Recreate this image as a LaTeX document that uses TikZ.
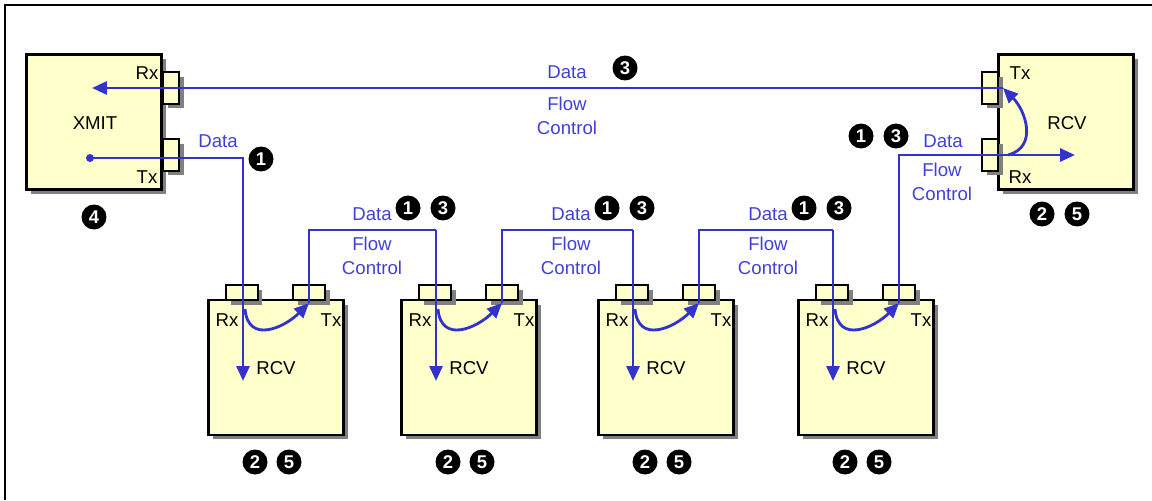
\documentclass[tikz,border=0pt]{standalone}
\usepackage{fontspec}
\setmainfont{Liberation Sans}
\usetikzlibrary{positioning,shadows,arrows.meta}

\definecolor{boxyellow}{RGB}{255,255,204}
\definecolor{flowblue}{RGB}{51,51,204}
\definecolor{labelblue}{RGB}{64,64,216}
\definecolor{shadowgray}{RGB}{128,128,128}

\tikzset{
  unit/.style={draw=black, line width=1.4pt, fill=boxyellow, inner sep=0pt,
    minimum width=2.7cm, minimum height=2.7cm,
    drop shadow={shadow xshift=0.09cm, shadow yshift=-0.09cm, fill=shadowgray, opacity=1}},
  sideport/.style={unit, minimum width=0.32cm, minimum height=0.64cm},
  topport/.style={unit, minimum width=0.64cm, minimum height=0.3cm},
  tag/.style={font=\fontsize{10.6}{12}\selectfont, inner sep=0pt},
  bluetag/.style={tag, text=labelblue, align=center, font=\fontsize{10.6}{13.6}\selectfont},
  num/.style={circle, fill=black, text=white, inner sep=0pt, minimum size=0.5cm,
    font=\bfseries\fontsize{10.5}{11}\selectfont},
  flow/.style={draw=flowblue, line width=1.6pt, -{Triangle[length=8.5pt, width=7.4pt]}},
  bus/.style={draw=flowblue, line width=1.6pt}
}

\begin{document}
\begin{tikzpicture}[x=0.02cm, y=-0.02cm]
\useasboundingbox (0,0) rectangle (1152,500);
\draw[line width=1.3pt] (1152,5) -| (5,500);

% transmitter
\node[unit] (xmit) at (94,122) {};
\node[sideport] (xrx) at (171,88) {};
\node[sideport] (xtx) at (171,155) {};
\node[tag] (xname) at (95,123) {XMIT};
\node[tag] (xrxl) at (147,73) {Rx};
\node[tag] (xtxl) at (147,177) {Tx};
\node[num] (n4) at (94,217) {4};
\fill[flowblue] (90,158) circle (4) coordinate (dot);
\coordinate (xin) at (92,88);

% last receiver
\node[unit] (rcvr) at (1066,122) {};
\node[sideport] (rtx) at (990,88) {};
\node[sideport] (rrx) at (990,155) {};
\node[tag] (rname) at (1067,123) {RCV};
\node[tag] (rtxl) at (1020,73) {Tx};
\node[tag] (rrxl) at (1020,177) {Rx};
\node[num] (rn2) at (1042,214) {2};
\node[num] (rn5) at (1077,214) {5};
\coordinate (rout) at (1003,88);
\coordinate (rloop) at (1008,155);
\coordinate (rin) at (1075,155);

% receivers in the chain
\foreach \i/\x in {1/208, 2/401, 3/598, 4/798} {
  \node[unit] (rcv\i) at ({\x+68},367.5) {};
  \node[topport] (prx\i) at ({\x+34},292.5) {};
  \node[topport] (ptx\i) at ({\x+101},292.5) {};
  \node[tag] (rxl\i) at ({\x+19},320) {Rx};
  \node[tag] (txl\i) at ({\x+123},320) {Tx};
  \node[tag] (name\i) at ({\x+68},368) {RCV};
  \node[num] (a\i) at ({\x+47},462) {2};
  \node[num] (b\i) at ({\x+81},462) {5};
  \coordinate (stop\i) at ({\x+35},381);
  \coordinate (top\i) at ({\x+35},230);
  \coordinate (loop\i) at ({\x+37},309);
  \coordinate (out\i) at ({\x+101},303);
  \draw[flow] (loop\i) to[out=-85, in=-135, looseness=1.4] (out\i);
}

% data and flow control labels
\node[bluetag] (d0) at (218,141) {Data};
\node[num] (n1) at (261,159) {1};
\foreach \j/\m in {1/372, 2/571, 3/768} {
  \node[bluetag] (d\j) at (\m,214) {Data};
  \node[num] (c\j) at ({\m+36},208) {1};
  \node[num] (e\j) at ({\m+71},208) {3};
  \node[bluetag] (fc\j) at (\m,256) {Flow\\Control};
}
\node[bluetag] (dtop) at (567,72) {Data};
\node[num] (ntop) at (625,68) {3};
\node[bluetag] (fctop) at (567,116) {Flow\\Control};
\node[num] (m1) at (861,136) {1};
\node[num] (m3) at (896,136) {3};
\node[bluetag] (dlast) at (943,141) {Data};
\node[bluetag] (fclast) at (942,182) {Flow\\Control};

% connectors
\draw[flow] (dot) -| (stop1);
\draw[bus] (out1) |- (top2);
\draw[flow] (top2) -- (stop2);
\draw[bus] (out2) |- (top3);
\draw[flow] (top3) -- (stop3);
\draw[bus] (out3) |- (top4);
\draw[flow] (top4) -- (stop4);
\draw[flow] (out4) |- (rin);
\draw[flow] (rloop) to[out=15, in=-45, looseness=1.2] (rout);
\draw[flow] (rout) -- (xin);

\end{tikzpicture}
\end{document}
